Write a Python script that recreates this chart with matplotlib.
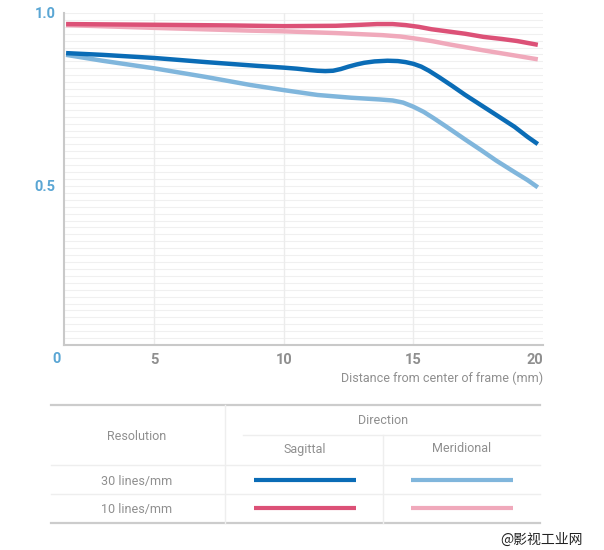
import matplotlib
matplotlib.use("Agg")
import matplotlib.pyplot as plt
import numpy as np

# ---------------- data ----------------
s30_x = [1.6, 3, 5, 7, 9, 10, 10.5, 11, 11.3, 11.6, 11.9, 12.2, 12.5, 12.8, 13.1, 13.5, 14, 14.4, 14.7, 15, 15.3, 15.6, 16, 16.5, 17, 17.6, 18.2, 18.9, 19.4, 19.8]
s30_y = [0.884, 0.879, 0.870, 0.858, 0.847, 0.842, 0.839, 0.835, 0.833, 0.832, 0.833, 0.838, 0.845, 0.851, 0.856, 0.860, 0.862, 0.861, 0.858, 0.853, 0.845, 0.833, 0.814, 0.789, 0.763, 0.734, 0.705, 0.671, 0.642, 0.621]

m30_x = [1.6, 3, 5, 7, 8.7, 10, 11.3, 12.6, 13.7, 14.2, 14.6, 15, 15.4, 15.8, 16.3, 17, 17.6, 18.2, 18.9, 19.4, 19.8]
m30_y = [0.879, 0.862, 0.840, 0.815, 0.792, 0.777, 0.763, 0.755, 0.750, 0.747, 0.741, 0.729, 0.714, 0.695, 0.670, 0.634, 0.604, 0.573, 0.540, 0.517, 0.496]

s10_x = [1.6, 5, 8, 10, 12, 13, 13.6, 14.2, 14.7, 15.2, 15.7, 16.4, 17, 17.7, 18.4, 19, 19.8]
s10_y = [0.968, 0.966, 0.964, 0.962, 0.963, 0.966, 0.968, 0.968, 0.965, 0.960, 0.953, 0.946, 0.940, 0.931, 0.925, 0.919, 0.908]

m10_x = [1.6, 5, 8.7, 10, 12, 13.8, 14.5, 15, 15.7, 16.4, 17.7, 19, 19.8]
m10_y = [0.965, 0.957, 0.949, 0.947, 0.942, 0.936, 0.932, 0.927, 0.919, 0.909, 0.892, 0.876, 0.866]

x_ticks = [5, 10, 15, 20]
y_ticks = [0.5, 1.0]
y_ticklabels = ["0.5", "1.0"]
x_label = "Distance from center of frame (mm)"

row_labels = ["30 lines/mm", "10 lines/mm"]
col_labels = ["Sagittal", "Meridional"]

# ---------------- style ----------------
C_S30 = "#0a6cb6"
C_M30 = "#80b6dc"
C_S10 = "#dc5177"
C_M10 = "#f0a9bb"
BLUE_LBL = "#5aa6d4"
GRAY_TXT = "#8f8f8f"
GRID = "#ececec"
SPINE = "#c9c9c9"

FONT = ["Roboto", "DejaVu Sans"]
plt.rcParams["font.family"] = FONT

W, H = 604, 550
fig = plt.figure(figsize=(W / 100, H / 100), dpi=100)
fig.patch.set_facecolor("white")

L, R, T, B = 64, 543, 13, 345
ax = fig.add_axes([L / W, 1 - B / H, (R - L) / W, (B - T) / H])
ax.set_xlim(1.52, 20)
ax.set_ylim(0.04, 1.0)

# grid
for yv in np.arange(0.06, 1.001, 0.02):
    ax.axhline(yv, color="#f0f0f0", lw=0.8, zorder=0)
for xv in x_ticks[:-1]:
    ax.axvline(xv, color=GRID, lw=1.0, zorder=0)

lw = 3.2
ax.plot(m10_x, m10_y, color=C_M10, lw=lw, solid_capstyle="butt", solid_joinstyle="round", zorder=3)
ax.plot(s10_x, s10_y, color=C_S10, lw=lw, solid_capstyle="butt", solid_joinstyle="round", zorder=4)
ax.plot(m30_x, m30_y, color=C_M30, lw=lw, solid_capstyle="butt", solid_joinstyle="round", zorder=3)
ax.plot(s30_x, s30_y, color=C_S30, lw=lw, solid_capstyle="butt", solid_joinstyle="round", zorder=4)

for s in ["top", "right"]:
    ax.spines[s].set_visible(False)
for s in ["left", "bottom"]:
    ax.spines[s].set_color(SPINE)
    ax.spines[s].set_linewidth(1.5)

ax.set_xticks(x_ticks)
ax.set_xticklabels([str(v) for v in x_ticks], fontsize=10.5, fontweight="bold", color=GRAY_TXT)
ax.get_xticklabels()[-1].set_horizontalalignment("right")
ax.set_yticks(y_ticks)
ax.set_yticklabels(y_ticklabels, fontsize=10.5, fontweight="bold", color=BLUE_LBL)
ax.tick_params(axis="x", length=0, pad=6)
ax.tick_params(axis="y", length=0, pad=6)
ax.text(1.25, 0.0, "0", fontsize=10.5, fontweight="bold", color=BLUE_LBL,
        ha="center", va="center", clip_on=False)
ax.text(1.0, -0.1, x_label, transform=ax.transAxes, ha="right", va="center",
        fontsize=9, color=GRAY_TXT)

# ---------------- legend table ----------------
tab = fig.add_axes([0, 0, 1, 1], zorder=5)
tab.set_xlim(0, W)
tab.set_ylim(H, 0)
tab.axis("off")
tab.patch.set_alpha(0)

x0, x1 = 51, 540
tab.plot([x0, x1], [405, 405], color="#cccccc", lw=1.6)
tab.plot([x0, x1], [523, 523], color="#cccccc", lw=1.6)
tab.plot([x0, x1], [465, 465], color="#eeeeee", lw=1.0)
tab.plot([x0, x1], [494, 494], color="#eeeeee", lw=1.0)
tab.plot([243, x1], [435, 435], color="#eeeeee", lw=1.0)
tab.plot([225, 225], [405, 523], color="#eeeeee", lw=1.0)
tab.plot([383, 383], [435, 523], color="#eeeeee", lw=1.0)

fs = 9
tab.text(383, 420, "Direction", ha="center", va="center", fontsize=fs, color=GRAY_TXT)
tab.text(137, 437, "Resolution", ha="center", va="center", fontsize=fs, color=GRAY_TXT)
tab.text(305, 449, col_labels[0], ha="center", va="center", fontsize=fs, color=GRAY_TXT)
tab.text(462, 449, col_labels[1], ha="center", va="center", fontsize=fs, color=GRAY_TXT)
tab.text(137, 481, row_labels[0], ha="center", va="center", fontsize=fs, color=GRAY_TXT)
tab.text(137, 509, row_labels[1], ha="center", va="center", fontsize=fs, color=GRAY_TXT)

tab.plot([254, 356], [480, 480], color=C_S30, lw=3, solid_capstyle="butt")
tab.plot([411, 513], [480, 480], color=C_M30, lw=3, solid_capstyle="butt")
tab.plot([254, 356], [508, 508], color=C_S10, lw=3, solid_capstyle="butt")
tab.plot([411, 513], [508, 508], color=C_M10, lw=3, solid_capstyle="butt")

tab.text(583, 540, "@影视工业网", ha="right", va="center", fontsize=10,
         color="#222222", family=["Noto Sans CJK SC", "DejaVu Sans"])

fig.savefig("out.png", dpi=100, facecolor="white")
